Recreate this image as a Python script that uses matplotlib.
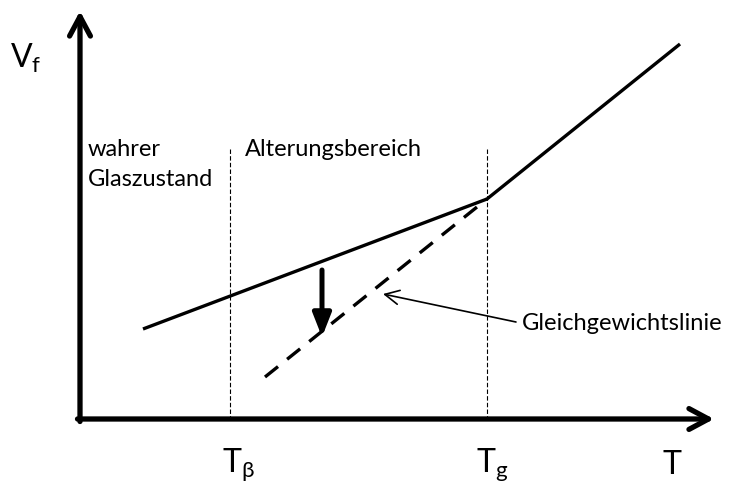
import matplotlib.pyplot as plt

# schematic coordinates (T to the right, V_f upwards; y grows downward like the sketch)
AXIS_ORIGIN = (80, 420)
AXIS_X_END = 714
AXIS_Y_END = 12

T_BETA = 230
T_G = 487
GUIDE_TOP = 150

# glass line (solid) and equilibrium line (dashed)
glass_t = [143, 487, 680]
glass_v = [330, 200, 45]
equil_t = [265, 487]
equil_v = [378, 200]

# aging arrow
aging_t = 322
aging_from = 271
aging_to = 338

tick_labels = ["T$_\\beta$", "T$_\\mathrm{g}$", "T"]
tick_pos = [238, 492, 672]

plt.rcParams["font.family"] = ["Lato", "DejaVu Sans"]
plt.rcParams["mathtext.fontset"] = "custom"
plt.rcParams["mathtext.rm"] = "Lato"
plt.rcParams["mathtext.it"] = "Lato"

fig = plt.figure(figsize=(7.34, 4.89), dpi=100)
ax = fig.add_axes([0, 0, 1, 1])
ax.set_xlim(0, 734)
ax.set_ylim(489, 0)
ax.axis("off")

# axes with open arrow heads
axis_arrow = dict(arrowstyle="->,head_length=1.4,head_width=0.75",
                  lw=3.8, color="black", shrinkA=0, shrinkB=0)
ax.annotate(
    "",
    xy=(AXIS_X_END, AXIS_ORIGIN[1]),
    xytext=(AXIS_ORIGIN[0] - 2.5, AXIS_ORIGIN[1]),
    arrowprops=axis_arrow,
)
ax.annotate(
    "",
    xy=(AXIS_ORIGIN[0], AXIS_Y_END),
    xytext=(AXIS_ORIGIN[0], AXIS_ORIGIN[1] + 2.5),
    arrowprops=axis_arrow,
)

# guide lines
for t in [T_BETA, T_G]:
    ax.plot([t, t], [GUIDE_TOP, AXIS_ORIGIN[1]], color="black",
            lw=0.8, linestyle=(0, (4, 2)))

ax.plot(glass_t, glass_v, color="black", lw=2.4, solid_capstyle="butt")
ax.plot(equil_t, equil_v, color="black", lw=2.4, linestyle=(0, (5, 3.5)))

ax.annotate(
    "",
    xy=(aging_t, aging_to),
    xytext=(aging_t, aging_from),
    arrowprops=dict(arrowstyle="-|>,head_length=1.4,head_width=0.55",
                    lw=3.6, color="black", shrinkA=0, shrinkB=0),
)

ax.annotate(
    "Gleichgewichtslinie",
    xy=(383, 295),
    xytext=(522, 323),
    fontsize=17,
    va="center",
    ha="left",
    arrowprops=dict(arrowstyle="->,head_length=0.6,head_width=0.3",
                    lw=1.2, color="black", shrinkA=0, shrinkB=0,
                    relpos=(-0.03, 0.5)),
)

ax.text(88, 149, "wahrer", fontsize=17, va="center", ha="left")
ax.text(88, 180, "Glaszustand", fontsize=17, va="center", ha="left")
ax.text(245, 149, "Alterungsbereich", fontsize=17, va="center", ha="left")

ax.text(10, 58, "V$_\\mathrm{f}$", fontsize=23, va="center", ha="left")
for label, x in zip(tick_labels, tick_pos):
    ax.text(x, 465, label, fontsize=23, va="center", ha="center")

fig.savefig("out.png", dpi=100)
